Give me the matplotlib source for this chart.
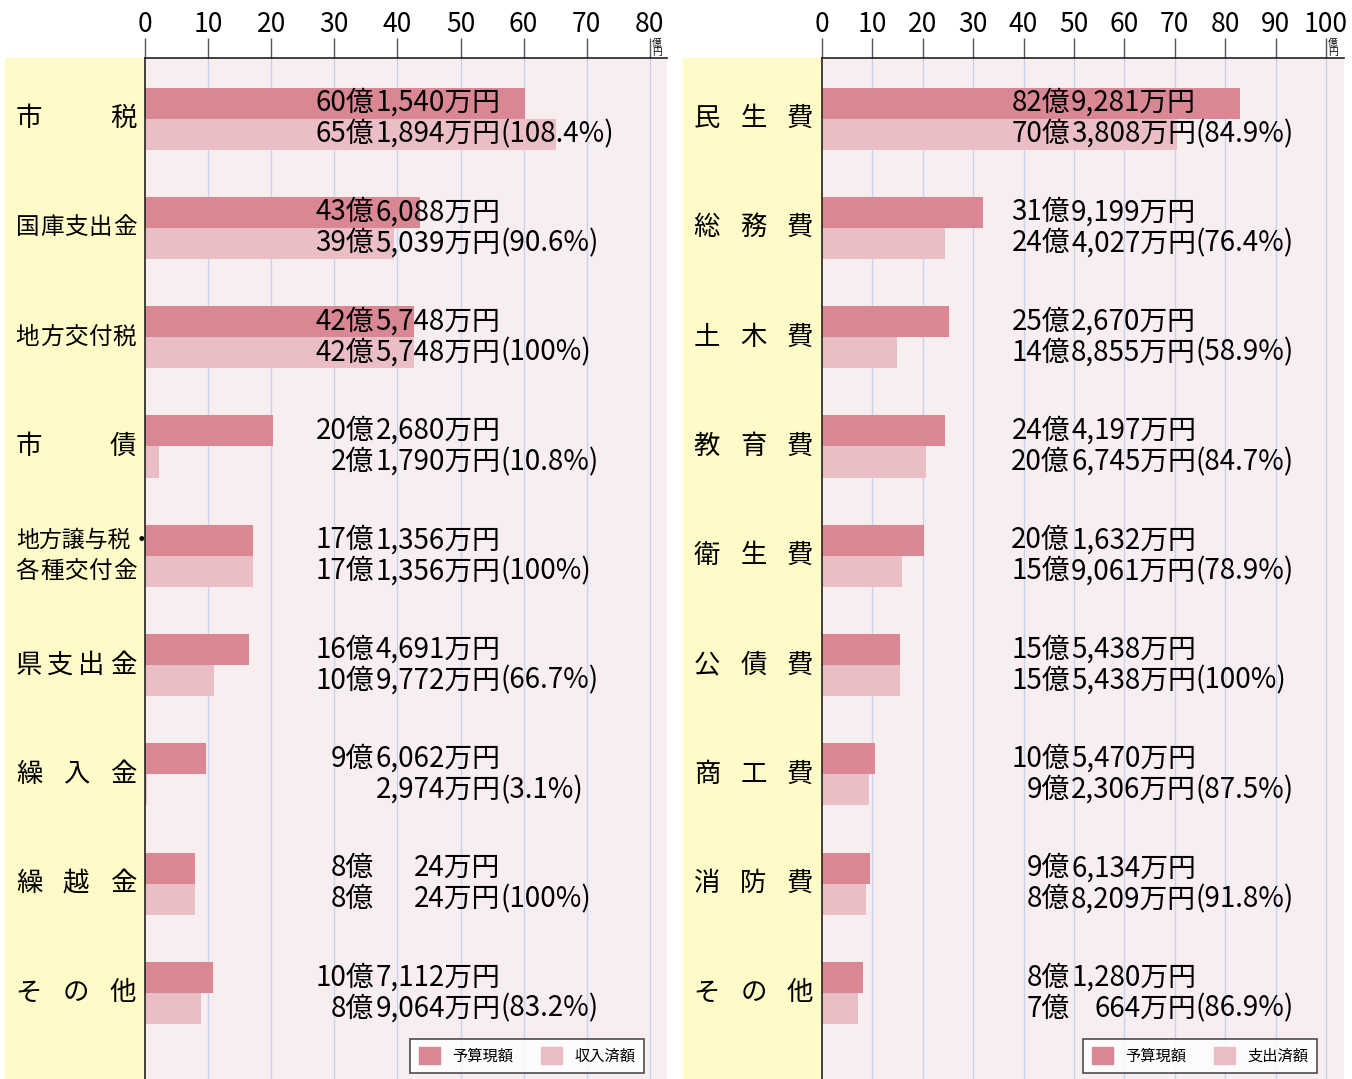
import matplotlib
matplotlib.use("Agg")
import numpy as np
import matplotlib.pyplot as plt
from matplotlib.patches import Rectangle, Patch
from matplotlib.transforms import blended_transform_factory

plt.rcParams['font.family'] = ['Noto Sans CJK JP', 'DejaVu Sans']

# values in 万円
rev_labels = ['市税', '国庫支出金', '地方交付税', '市債', '地方譲与税・\n各種交付金',
              '県支出金', '繰入金', '繰越金', 'その他']
rev_budget = [601540, 436088, 425748, 202680, 171356, 164691, 96062, 80024, 107112]
rev_actual = [651894, 395039, 425748, 21790, 171356, 109772, 2974, 80024, 89064]
rev_rate = [108.4, 90.6, 100, 10.8, 100, 66.7, 3.1, 100, 83.2]

exp_labels = ['民生費', '総務費', '土木費', '教育費', '衛生費', '公債費', '商工費', '消防費', 'その他']
exp_budget = [829281, 319199, 252670, 244197, 201632, 155438, 105470, 96134, 81280]
exp_actual = [703808, 244027, 148855, 206745, 159061, 155438, 92306, 88209, 70664]
exp_rate = [84.9, 76.4, 58.9, 84.7, 78.9, 100, 87.5, 91.8, 86.9]

W, H = 1352, 1079
C_BUDGET = '#D98893'
C_ACTUAL = '#EBBEC5'
C_BG = '#F9EEEF'
C_YELLOW = '#FFFBC9'
C_GRID = '#C7D3EE'

fig = plt.figure(figsize=(W / 100, H / 100), dpi=100)
top_px = 58
bar_h = 0.284


def oku_str(v):
    return f'{v // 10000}億' if v >= 10000 else ''


def man_str(v):
    return f'{v % 10000:,}万円'


def panel(x0, x1, ylab_x0, xmax_tick, px_per10, labels, budget, actual, rate,
          oku_end, man_end, leg_label, leg_inset):
    ax = fig.add_axes([x0 / W, 0, (x1 - x0) / W, (H - top_px) / H])
    xmax = (x1 - x0) / px_per10 * 10
    ax.set_xlim(0, xmax)
    ax.set_ylim(8.787, -0.554)
    ax.set_facecolor(C_BG)

    y = np.arange(len(labels))
    b = np.array(budget) / 10000
    a = np.array(actual) / 10000
    ax.barh(y - bar_h / 2, b, height=bar_h, color=C_BUDGET, zorder=2)
    ax.barh(y + bar_h / 2, a, height=bar_h, color=C_ACTUAL, zorder=2)

    ticks = np.arange(0, xmax_tick + 1, 10)
    ax.set_xticks(ticks)
    ax.set_xticklabels([str(t) for t in ticks])
    ax.xaxis.tick_top()
    ax.tick_params(axis='x', length=14.5, width=1, color='#555555', pad=0,
                   labelsize=19)
    ax.set_yticks([])
    for t in ticks[1:]:
        ax.axvline(t, color=C_GRID, lw=1, zorder=1)
    for s in ['right', 'bottom']:
        ax.spines[s].set_visible(False)
    ax.spines['top'].set_color('#222222')
    ax.spines['left'].set_color('#222222')
    ax.spines['top'].set_linewidth(1.2)
    ax.spines['left'].set_linewidth(1.2)

    ax.annotate('億\n円', xy=(xmax_tick, 1), xycoords=('data', 'axes fraction'),
                xytext=(1.5, 0.5), textcoords='offset points', ha='left', va='bottom',
                fontsize=7, linespacing=0.95)

    fs = 20
    for i in range(len(labels)):
        for v, yy, extra in [(budget[i], i - bar_h / 2, ''),
                             (actual[i], i + bar_h / 2, f'({rate[i]:g}%)')]:
            ax.text(oku_end, yy, oku_str(v), ha='right', va='center', fontsize=fs, zorder=3)
            ax.text(man_end, yy, man_str(v), ha='right', va='center', fontsize=fs, zorder=3)
            if extra:
                ax.text(man_end, yy, extra, ha='left', va='center', fontsize=fs, zorder=3)

    # yellow label area
    fig.patches.append(Rectangle((ylab_x0 / W, 0), (x0 - ylab_x0) / W, (H - top_px) / H,
                                 transform=fig.transFigure, color=C_YELLOW, zorder=-1))
    tr = blended_transform_factory(fig.transFigure, ax.transData)
    lx = ylab_x0 + 11
    rx = x0 - 9
    for i, lab in enumerate(labels):
        lines = lab.split('\n')
        if len(lines) == 1:
            line = lines[0]
            # narrower characters when five of them must fit
            cw, cfs = (23, 17) if len(line) >= 5 else (26, 19)
            xs = np.linspace(lx + cw / 2, rx - cw / 2, len(line))
            for ch, xc in zip(line, xs):
                ax.text(xc / W, i, ch, transform=tr, ha='center', va='center',
                        fontsize=cfs, zorder=4)
        else:
            # two-line label, smaller characters
            cw2 = 23
            for line, off in zip(lines, [-bar_h / 2, bar_h / 2]):
                if line.endswith('・'):
                    ax.text(lx / W, i + off, line, transform=tr, ha='left', va='center',
                            fontsize=16.5, zorder=4)
                else:
                    xs = np.linspace(lx + cw2 / 2, rx - cw2 / 2, len(line))
                    for ch, xc in zip(line, xs):
                        ax.text(xc / W, i + off, ch, transform=tr, ha='center',
                                va='center', fontsize=17, zorder=4)

    handles = [Patch(color=C_BUDGET), Patch(color=C_ACTUAL)]
    leg = ax.legend(handles, ['予算現額', leg_label], loc='lower right',
                    bbox_to_anchor=(1 - leg_inset / (x1 - x0), 6 / (H - top_px)),
                    borderaxespad=0, ncol=2, fontsize=11, frameon=True, fancybox=False,
                    handlelength=1.4, handleheight=1.3, columnspacing=1.8,
                    handletextpad=0.8, borderpad=0.55)
    leg.get_frame().set_edgecolor('#222222')
    leg.get_frame().set_linewidth(1.2)
    leg.set_zorder(5)
    return ax


panel(145, 667, 5, 80, 63.1, rev_labels, rev_budget, rev_actual, rev_rate,
      36.3, 56.3, '収入済額', 23)
panel(822, 1344, 683, 100, 50.4, exp_labels, exp_budget, exp_actual, exp_rate,
      49.2, 74.2, '支出済額', 27)

fig.savefig('out.png', dpi=100, facecolor='white')
